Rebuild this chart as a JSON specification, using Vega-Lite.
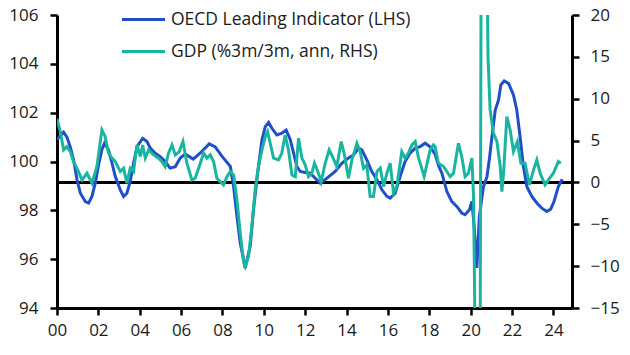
{
  "$schema": "https://vega.github.io/schema/vega-lite/v6.json",
  "width": 515,
  "height": 293,
  "autosize": {"type": "none"},
  "padding": {"left": 57, "top": 15, "right": 58, "bottom": 47},
  "config": {
    "view": {"stroke": null},
    "font": "Open Sans",
    "axis": {
      "domainColor": "#000000",
      "domainWidth": 3,
      "tickColor": "#000000",
      "tickWidth": 2.5,
      "tickSize": 7,
      "labelFont": "Open Sans",
      "labelFontSize": 17,
      "labelColor": "#1a1a1a",
      "grid": false,
      "title": null
    },
    "legend": {
      "labelFont": "Open Sans",
      "labelFontSize": 17.5,
      "labelColor": "#1a1a1a",
      "labelLimit": 0
    }
  },
  "datasets": {
    "oecd": [
      {"t": 2000.00, "v": 100.9}, {"t": 2000.32, "v": 101.2}, {"t": 2000.48, "v": 101.0}, {"t": 2000.64, "v": 100.6},
      {"t": 2000.80, "v": 100.07}, {"t": 2000.97, "v": 99.25}, {"t": 2001.13, "v": 98.7}, {"t": 2001.37, "v": 98.36},
      {"t": 2001.53, "v": 98.3}, {"t": 2001.69, "v": 98.57}, {"t": 2001.85, "v": 99.11}, {"t": 2002.01, "v": 99.86},
      {"t": 2002.17, "v": 100.48}, {"t": 2002.30, "v": 100.75}, {"t": 2002.49, "v": 100.48}, {"t": 2002.66, "v": 99.93},
      {"t": 2002.82, "v": 99.38}, {"t": 2003.06, "v": 98.84}, {"t": 2003.22, "v": 98.57}, {"t": 2003.38, "v": 98.7},
      {"t": 2003.54, "v": 99.18}, {"t": 2003.70, "v": 99.93}, {"t": 2003.87, "v": 100.61}, {"t": 2004.14, "v": 100.95},
      {"t": 2004.35, "v": 100.82}, {"t": 2004.51, "v": 100.55}, {"t": 2004.75, "v": 100.34}, {"t": 2004.99, "v": 100.2},
      {"t": 2005.23, "v": 100.0}, {"t": 2005.47, "v": 99.73}, {"t": 2005.72, "v": 99.79}, {"t": 2005.96, "v": 100.14},
      {"t": 2006.20, "v": 100.3}, {"t": 2006.59, "v": 100.1}, {"t": 2006.93, "v": 100.35}, {"t": 2007.36, "v": 100.72},
      {"t": 2007.65, "v": 100.6}, {"t": 2007.99, "v": 100.2}, {"t": 2008.38, "v": 99.8}, {"t": 2008.54, "v": 98.97},
      {"t": 2008.70, "v": 97.75}, {"t": 2008.86, "v": 96.66}, {"t": 2009.10, "v": 95.64}, {"t": 2009.34, "v": 96.52},
      {"t": 2009.50, "v": 98.02}, {"t": 2009.70, "v": 99.52}, {"t": 2009.91, "v": 100.89}, {"t": 2010.07, "v": 101.43},
      {"t": 2010.23, "v": 101.6}, {"t": 2010.39, "v": 101.36}, {"t": 2010.63, "v": 101.09}, {"t": 2010.87, "v": 101.16},
      {"t": 2011.08, "v": 101.29}, {"t": 2011.28, "v": 100.89}, {"t": 2011.44, "v": 100.34}, {"t": 2011.60, "v": 99.79},
      {"t": 2011.76, "v": 99.59}, {"t": 2012.00, "v": 99.55}, {"t": 2012.24, "v": 99.52}, {"t": 2012.73, "v": 99.11},
      {"t": 2013.05, "v": 99.32}, {"t": 2013.45, "v": 99.59}, {"t": 2013.77, "v": 99.93}, {"t": 2014.09, "v": 100.14},
      {"t": 2014.34, "v": 100.27}, {"t": 2014.58, "v": 100.55}, {"t": 2014.74, "v": 100.48}, {"t": 2014.98, "v": 100.07},
      {"t": 2015.22, "v": 99.59}, {"t": 2015.47, "v": 99.25}, {"t": 2015.71, "v": 98.84}, {"t": 2015.95, "v": 98.57},
      {"t": 2016.11, "v": 98.5}, {"t": 2016.35, "v": 98.7}, {"t": 2016.59, "v": 99.38}, {"t": 2016.83, "v": 100.0},
      {"t": 2017.07, "v": 100.34}, {"t": 2017.32, "v": 100.55}, {"t": 2017.56, "v": 100.61}, {"t": 2017.80, "v": 100.75},
      {"t": 2018.04, "v": 100.6}, {"t": 2018.28, "v": 100.3}, {"t": 2018.44, "v": 99.85}, {"t": 2018.61, "v": 99.52},
      {"t": 2018.85, "v": 98.77}, {"t": 2019.09, "v": 98.36}, {"t": 2019.33, "v": 98.16}, {"t": 2019.57, "v": 97.89},
      {"t": 2019.73, "v": 97.82}, {"t": 2019.94, "v": 98.02}, {"t": 2020.06, "v": 98.36}, {"t": 2020.17, "v": 97.34},
      {"t": 2020.30, "v": 95.64}, {"t": 2020.42, "v": 97.75}, {"t": 2020.62, "v": 98.97}, {"t": 2020.79, "v": 99.38},
      {"t": 2020.92, "v": 100.2}, {"t": 2021.03, "v": 101.02}, {"t": 2021.19, "v": 102.11}, {"t": 2021.35, "v": 102.52},
      {"t": 2021.46, "v": 103.14}, {"t": 2021.62, "v": 103.3}, {"t": 2021.83, "v": 103.2}, {"t": 2022.07, "v": 102.73},
      {"t": 2022.23, "v": 102.11}, {"t": 2022.39, "v": 101.02}, {"t": 2022.55, "v": 99.79}, {"t": 2022.72, "v": 98.97},
      {"t": 2022.96, "v": 98.57}, {"t": 2023.20, "v": 98.3}, {"t": 2023.44, "v": 98.09}, {"t": 2023.68, "v": 97.95},
      {"t": 2023.87, "v": 98.05}, {"t": 2024.03, "v": 98.36}, {"t": 2024.24, "v": 98.97}, {"t": 2024.43, "v": 99.28}
    ],
    "gdp": [
      {"t": 2000.00, "v": 7.6}, {"t": 2000.16, "v": 6.07}, {"t": 2000.32, "v": 3.89}, {"t": 2000.48, "v": 4.28},
      {"t": 2000.64, "v": 3.68}, {"t": 2000.80, "v": 2.49}, {"t": 2001.04, "v": 1.3}, {"t": 2001.21, "v": 0.3},
      {"t": 2001.45, "v": 1.1}, {"t": 2001.69, "v": -0.09}, {"t": 2001.93, "v": 1.9}, {"t": 2002.17, "v": 6.27},
      {"t": 2002.33, "v": 5.47}, {"t": 2002.49, "v": 3.5}, {"t": 2002.66, "v": 2.9}, {"t": 2002.82, "v": 2.49},
      {"t": 2003.06, "v": 1.3}, {"t": 2003.22, "v": 1.7}, {"t": 2003.38, "v": -0.09}, {"t": 2003.54, "v": 1.7},
      {"t": 2003.70, "v": 1.3}, {"t": 2003.87, "v": 4.48}, {"t": 2004.03, "v": 3.09}, {"t": 2004.14, "v": 4.48},
      {"t": 2004.27, "v": 2.9}, {"t": 2004.43, "v": 3.89}, {"t": 2004.67, "v": 3.29}, {"t": 2004.91, "v": 2.9},
      {"t": 2005.07, "v": 2.49}, {"t": 2005.23, "v": 1.9}, {"t": 2005.39, "v": 3.5}, {"t": 2005.56, "v": 4.48},
      {"t": 2005.72, "v": 3.29}, {"t": 2005.91, "v": 3.68}, {"t": 2006.09, "v": 4.88}, {"t": 2006.28, "v": 2.3},
      {"t": 2006.52, "v": 0.3}, {"t": 2006.68, "v": 0.5}, {"t": 2006.93, "v": 2.3}, {"t": 2007.09, "v": 3.5},
      {"t": 2007.25, "v": 2.9}, {"t": 2007.41, "v": 3.29}, {"t": 2007.57, "v": 2.49}, {"t": 2007.73, "v": 0.5},
      {"t": 2007.89, "v": 0.1}, {"t": 2008.05, "v": -0.29}, {"t": 2008.22, "v": 0.7}, {"t": 2008.38, "v": 1.3},
      {"t": 2008.54, "v": 0.9}, {"t": 2008.70, "v": -2.08}, {"t": 2008.86, "v": -6.05}, {"t": 2009.02, "v": -9.44},
      {"t": 2009.10, "v": -10.04}, {"t": 2009.26, "v": -8.84}, {"t": 2009.42, "v": -5.27}, {"t": 2009.58, "v": -0.89},
      {"t": 2009.74, "v": 1.9}, {"t": 2009.91, "v": 3.89}, {"t": 2010.07, "v": 5.47}, {"t": 2010.18, "v": 6.07},
      {"t": 2010.31, "v": 4.68}, {"t": 2010.47, "v": 2.9}, {"t": 2010.71, "v": 2.69}, {"t": 2010.87, "v": 3.5},
      {"t": 2011.03, "v": 5.67}, {"t": 2011.19, "v": 3.89}, {"t": 2011.36, "v": 0.9}, {"t": 2011.52, "v": 0.7},
      {"t": 2011.68, "v": 5.28}, {"t": 2011.84, "v": 2.9}, {"t": 2012.00, "v": 2.1}, {"t": 2012.16, "v": 0.7},
      {"t": 2012.32, "v": 1.1}, {"t": 2012.45, "v": 2.3}, {"t": 2012.61, "v": 1.3}, {"t": 2012.77, "v": 0.1},
      {"t": 2012.97, "v": 2.3}, {"t": 2013.16, "v": 3.89}, {"t": 2013.32, "v": 3.09}, {"t": 2013.53, "v": 1.9},
      {"t": 2013.74, "v": 4.88}, {"t": 2013.90, "v": 3.29}, {"t": 2014.09, "v": 0.5}, {"t": 2014.26, "v": 2.69},
      {"t": 2014.50, "v": 4.68}, {"t": 2014.66, "v": 3.68}, {"t": 2014.82, "v": 1.7}, {"t": 2014.98, "v": 2.1},
      {"t": 2015.14, "v": -1.69}, {"t": 2015.30, "v": -1.69}, {"t": 2015.47, "v": 1.3}, {"t": 2015.63, "v": 1.7},
      {"t": 2015.79, "v": -0.49}, {"t": 2015.95, "v": 1.1}, {"t": 2016.11, "v": 2.3}, {"t": 2016.27, "v": -1.28},
      {"t": 2016.43, "v": -0.49}, {"t": 2016.67, "v": 3.68}, {"t": 2016.83, "v": 2.9}, {"t": 2016.99, "v": 3.5},
      {"t": 2017.16, "v": 4.48}, {"t": 2017.32, "v": 4.88}, {"t": 2017.48, "v": 2.9}, {"t": 2017.56, "v": 2.3},
      {"t": 2017.75, "v": 0.7}, {"t": 2017.88, "v": 2.1}, {"t": 2018.04, "v": 3.89}, {"t": 2018.20, "v": 4.48},
      {"t": 2018.28, "v": 4.28}, {"t": 2018.44, "v": 2.3}, {"t": 2018.69, "v": 1.9}, {"t": 2019.01, "v": 0.7},
      {"t": 2019.17, "v": 1.1}, {"t": 2019.41, "v": 4.68}, {"t": 2019.57, "v": 3.09}, {"t": 2019.73, "v": 0.7},
      {"t": 2019.89, "v": 1.1}, {"t": 2020.06, "v": 2.9}, {"t": 2020.14, "v": -1.69}, {"t": 2020.22, "v": -20},
      {"t": 2020.30, "v": -45}, {"t": 2020.38, "v": -50}, {"t": 2020.43, "v": -50}, {"t": 2020.51, "v": 30},
      {"t": 2020.59, "v": 45}, {"t": 2020.67, "v": 40}, {"t": 2020.75, "v": 35}, {"t": 2020.84, "v": 15},
      {"t": 2020.94, "v": 8.66}, {"t": 2021.10, "v": 5.88}, {"t": 2021.27, "v": 4.88}, {"t": 2021.43, "v": 1.9},
      {"t": 2021.51, "v": -1.09}, {"t": 2021.59, "v": 1.1}, {"t": 2021.75, "v": 7.86}, {"t": 2021.91, "v": 6.27},
      {"t": 2022.07, "v": 3.68}, {"t": 2022.26, "v": 4.88}, {"t": 2022.43, "v": 2.3}, {"t": 2022.63, "v": 2.3},
      {"t": 2022.84, "v": -0.29}, {"t": 2023.04, "v": 1.5}, {"t": 2023.20, "v": 2.69}, {"t": 2023.36, "v": 1.1},
      {"t": 2023.60, "v": -0.29}, {"t": 2023.76, "v": 0.3}, {"t": 2024.00, "v": 1.1}, {"t": 2024.24, "v": 2.49},
      {"t": 2024.36, "v": 2.3}
    ]
  },
  "layer": [
    {
      "data": {"values": [{"z": 0}]},
      "mark": {"type": "rule", "color": "#000000", "strokeWidth": 3},
      "encoding": {
        "y": {"field": "z", "type": "quantitative", "scale": {"domain": [-15, 20], "nice": false, "zero": false}, "axis": null}
      }
    },
    {
      "data": {"name": "oecd"},
      "mark": {"type": "line", "strokeWidth": 3, "clip": true},
      "encoding": {
        "x": {
          "field": "t", "type": "quantitative",
          "scale": {"domain": [2000, 2024.9], "nice": false, "zero": false},
          "axis": {"values": [2000, 2002, 2004, 2006, 2008, 2010, 2012, 2014, 2016, 2018, 2020, 2022, 2024], "labelExpr": "slice(toString(datum.value), 2)", "labelPadding": 7, "labelFlush": false}
        },
        "y": {
          "field": "v", "type": "quantitative",
          "scale": {"domain": [94, 106], "nice": false, "zero": false},
          "axis": {"orient": "left", "values": [94, 96, 98, 100, 102, 104, 106], "labelPadding": 12}
        },
        "color": {
          "datum": "OECD Leading Indicator (LHS)", "type": "nominal",
          "scale": {"domain": ["OECD Leading Indicator (LHS)", "GDP (%3m/3m, ann, RHS)"], "range": ["#2050C8", "#1AB5A0"]},
          "legend": {"orient": "none", "legendX": 63, "legendY": -19, "title": null, "symbolType": "stroke", "symbolSize": 1850, "symbolStrokeWidth": 3, "labelOffset": 4, "rowPadding": -7, "labelLimit": 0}
        }
      }
    },
    {
      "data": {"name": "gdp"},
      "mark": {"type": "line", "strokeWidth": 3, "clip": true},
      "encoding": {
        "x": {"field": "t", "type": "quantitative", "scale": {"domain": [2000, 2024.9], "nice": false, "zero": false}},
        "y": {
          "field": "v", "type": "quantitative",
          "scale": {"domain": [-15, 20], "nice": false, "zero": false},
          "axis": {"orient": "right", "values": [-15, -10, -5, 0, 5, 10, 15, 20], "labelPadding": 11}
        },
        "color": {"datum": "GDP (%3m/3m, ann, RHS)", "type": "nominal"}
      }
    }
  ],
  "resolve": {"scale": {"y": "independent"}, "axis": {"y": "independent"}}
}
